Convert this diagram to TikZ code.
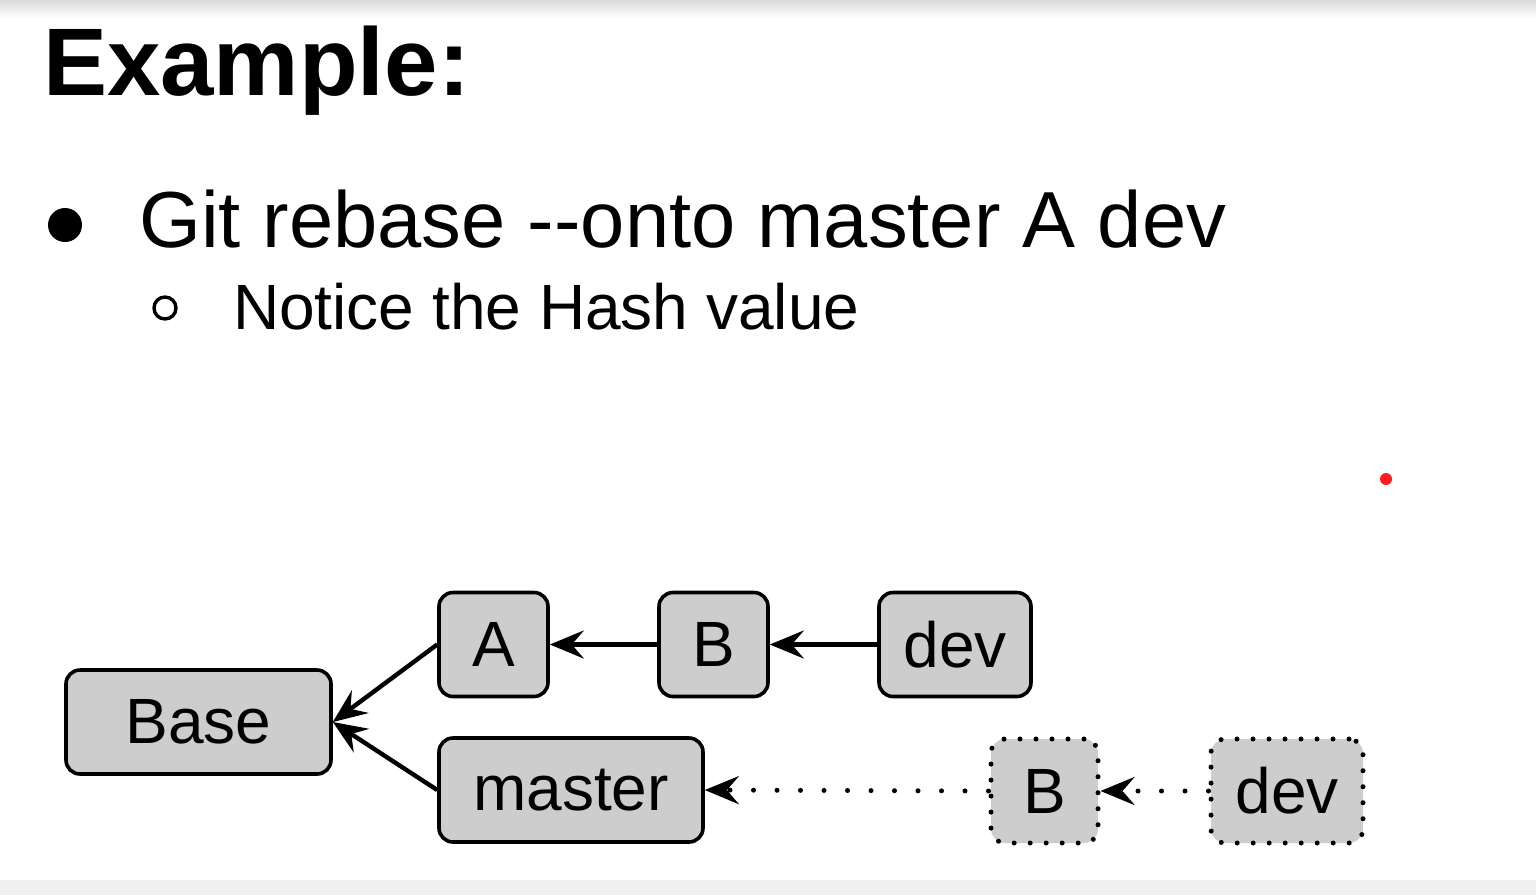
\documentclass[tikz,border=0pt]{standalone}
\usepackage{fontspec}
\setmainfont{Liberation Sans}[Ligatures=NoCommon]
\usetikzlibrary{arrows.meta}
\tikzset{
  commit/.style={draw=black, line width=3.6pt, fill=boxgray, rounded corners=14pt, minimum height=104pt, inner sep=0pt, font=\fontsize{64}{70}\selectfont},
  ghost/.style={commit, dash pattern=on 0pt off 16pt, line cap=round, line width=5pt},
  link/.style={line width=4.4pt, -{Stealth[length=34pt, width=28pt, inset=12pt]}},
  dotlink/.style={line width=5pt, dash pattern=on 0pt off 23.5pt, line cap=round, -{Stealth[length=34pt, width=28pt, inset=12pt, line cap=butt]}},
}
\definecolor{boxgray}{HTML}{CDCDCD}
\begin{document}
\begin{tikzpicture}[x=1pt, y=-1pt]
\useasboundingbox (0,0) rectangle (1536,895);
\shade[top color=black!14, bottom color=white] (0,0) rectangle (1536,18);
\fill[black!6] (0,880) rectangle (1536,895);
\node[anchor=base west, inner sep=0pt, font=\fontsize{96}{100}\selectfont\bfseries] (title) at (43,95) {Example:};
\fill (65,225) circle (17pt);
\node[anchor=base west, inner sep=0pt, font=\fontsize{79.5}{82}\selectfont] (cmd) at (139,247) {Git rebase -{}-onto master A dev};
\draw[line width=3.4pt] (165,308) circle (11pt);
\node[anchor=base west, inner sep=0pt, font=\fontsize{64}{70}\selectfont] (note) at (233,329) {Notice the Hash value};
\fill[red!85!pink] (1386,479) circle (6pt);

\node[commit, minimum width=265pt] (base) at (198.5,722) {Base};
\node[commit, minimum width=109pt] (a) at (493.5,644.5) {A};
\node[commit, minimum width=109pt] (b) at (713.5,644.5) {B};
\node[commit, minimum width=152pt] (dev) at (955,644.5) {dev};
\node[commit, minimum width=264pt] (master) at (571,790) {master};
\node[ghost, minimum width=107pt] (b2) at (1044.5,791) {B};
\node[ghost, minimum width=152pt] (dev2) at (1287,791) {dev};

\draw[link] (a.west) -- (base.east);
\draw[link] (master.west) -- (base.east);
\draw[link] (b.west) -- (a.east);
\draw[link] (dev.west) -- (b.east);
\draw[dotlink] (b2.west) -- (master.east);
\draw[dotlink] (dev2.west) -- (b2.east);
\end{tikzpicture}
\end{document}
